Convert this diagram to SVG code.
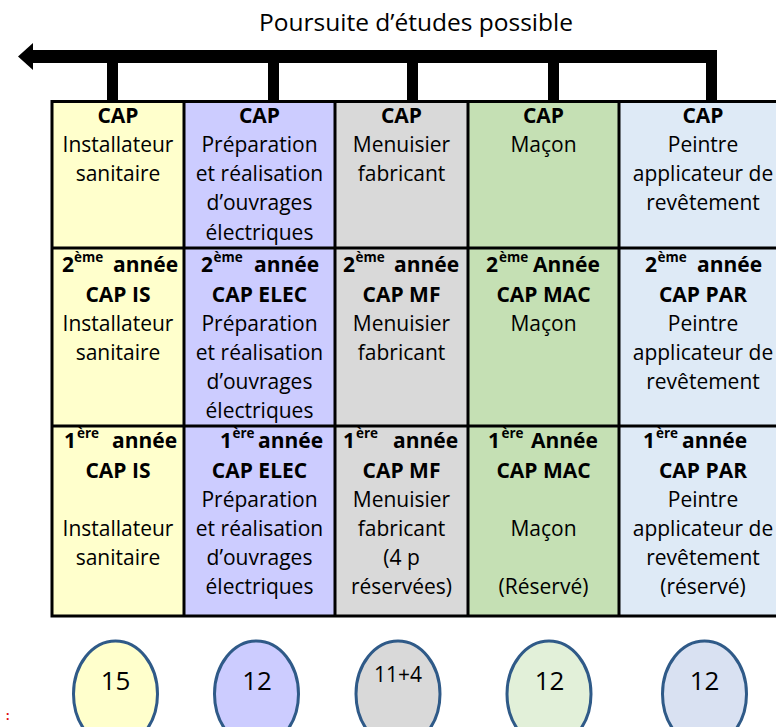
<svg xmlns="http://www.w3.org/2000/svg" width="776" height="727" viewBox="0 0 776 727">
<style>
text{font-family:"Open Sans","Liberation Sans",sans-serif;fill:#000}
.t{font-size:21px;text-anchor:middle}
.b{font-weight:bold}
.h{font-size:21px;font-weight:bold;text-anchor:start}
.sup{font-size:13.5px;font-weight:bold}
.title{font-size:24.5px;text-anchor:middle}
.grid{stroke:#000;stroke-width:3;fill:none}
.ell{stroke:#2F5A88;stroke-width:3}
.num{font-size:26px;text-anchor:middle}
.arrow{fill:#000}
</style>
<rect width="776" height="727" fill="#fff"/>
<text class="title" x="416" y="31">Poursuite d’études possible</text>

<g id="connectors">
<polygon class="arrow" points="18,56.5 33,43 33,70"/>
<rect class="arrow" x="32" y="50" width="685" height="13"/>
<rect class="arrow" x="107" y="62" width="11" height="39"/>
<rect class="arrow" x="268" y="62" width="11" height="39"/>
<rect class="arrow" x="407" y="62" width="11" height="39"/>
<rect class="arrow" x="548" y="62" width="11" height="39"/>
<rect class="arrow" x="706" y="62" width="11" height="39"/>
</g>

<g id="table">
<rect x="52" y="101" width="132" height="515" fill="#FFFFCC"/>
<rect x="184" y="101" width="151" height="515" fill="#CCCCFF"/>
<rect x="335" y="101" width="133" height="515" fill="#D9D9D9"/>
<rect x="468" y="101" width="151" height="515" fill="#C5E0B4"/>
<rect x="619" y="101" width="170" height="515" fill="#DEEAF6"/>
<path class="grid" d="M50.5 101.5H790M50.5 248H790M50.5 426H790M50.5 616H790M52 100V617.5M184 100V617.5M335 100V617.5M468 100V617.5M619 100V617.5"/>
</g>

<g id="col-is">
<text class="t b" x="118" y="123">CAP</text>
<text class="t" x="118" y="152">Installateur</text>
<text class="t" x="118" y="181">sanitaire</text>
<text class="h"><tspan x="62" y="272">2</tspan><tspan class="sup" x="74" y="262">ème</tspan><tspan x="113" y="272">année</tspan></text>
<text class="t b" x="118" y="302">CAP IS</text>
<text class="t" x="118" y="331">Installateur</text>
<text class="t" x="118" y="360">sanitaire</text>
<text class="h"><tspan x="64" y="448">1</tspan><tspan class="sup" x="77" y="438">ère</tspan><tspan x="112" y="448">année</tspan></text>
<text class="t b" x="118" y="478">CAP IS</text>
<text class="t" x="118" y="536">Installateur</text>
<text class="t" x="118" y="565">sanitaire</text>
</g>

<g id="col-elec">
<text class="t b" x="259.5" y="123">CAP</text>
<text class="t" x="259.5" y="152">Préparation</text>
<text class="t" x="259.5" y="181">et réalisation</text>
<text class="t" x="259.5" y="210">d’ouvrages</text>
<text class="t" x="259.5" y="240">électriques</text>
<text class="h"><tspan x="201" y="272">2</tspan><tspan class="sup" x="213.5" y="262">ème</tspan><tspan x="254" y="272">année</tspan></text>
<text class="t b" x="259.5" y="302">CAP ELEC</text>
<text class="t" x="259.5" y="331">Préparation</text>
<text class="t" x="259.5" y="360">et réalisation</text>
<text class="t" x="259.5" y="389">d’ouvrages</text>
<text class="t" x="259.5" y="418">électriques</text>
<text class="h"><tspan x="220" y="448">1</tspan><tspan class="sup" x="232.5" y="438">ère</tspan><tspan x="258" y="448">année</tspan></text>
<text class="t b" x="259.5" y="478">CAP ELEC</text>
<text class="t" x="259.5" y="507">Préparation</text>
<text class="t" x="259.5" y="536">et réalisation</text>
<text class="t" x="259.5" y="565">d’ouvrages</text>
<text class="t" x="259.5" y="594">électriques</text>
</g>

<g id="col-mf">
<text class="t b" x="401.5" y="123">CAP</text>
<text class="t" x="401.5" y="152">Menuisier</text>
<text class="t" x="401.5" y="181">fabricant</text>
<text class="h"><tspan x="343" y="272">2</tspan><tspan class="sup" x="355.5" y="262">ème</tspan><tspan x="394" y="272">année</tspan></text>
<text class="t b" x="401.5" y="302">CAP MF</text>
<text class="t" x="401.5" y="331">Menuisier</text>
<text class="t" x="401.5" y="360">fabricant</text>
<text class="h"><tspan x="343" y="448">1</tspan><tspan class="sup" x="356" y="438">ère</tspan><tspan x="393" y="448">année</tspan></text>
<text class="t b" x="401.5" y="478">CAP MF</text>
<text class="t" x="401.5" y="507">Menuisier</text>
<text class="t" x="401.5" y="536">fabricant</text>
<text class="t" x="401.5" y="565">(4 p</text>
<text class="t" x="401.5" y="594">réservées)</text>
</g>

<g id="col-mac">
<text class="t b" x="543.5" y="123">CAP</text>
<text class="t" x="543.5" y="152">Maçon</text>
<text class="h"><tspan x="486" y="272">2</tspan><tspan class="sup" x="499" y="262">ème</tspan><tspan x="533" y="272">Année</tspan></text>
<text class="t b" x="543.5" y="302">CAP MAC</text>
<text class="t" x="543.5" y="331">Maçon</text>
<text class="h"><tspan x="488" y="448">1</tspan><tspan class="sup" x="501.5" y="438">ère</tspan><tspan x="531" y="448">Année</tspan></text>
<text class="t b" x="543.5" y="478">CAP MAC</text>
<text class="t" x="543.5" y="536">Maçon</text>
<text class="t" x="543.5" y="594">(Réservé)</text>
</g>

<g id="col-par">
<text class="t b" x="703" y="123">CAP</text>
<text class="t" x="703" y="152">Peintre</text>
<text class="t" x="703" y="181">applicateur de</text>
<text class="t" x="703" y="210">revêtement</text>
<text class="h"><tspan x="645" y="272">2</tspan><tspan class="sup" x="657.5" y="262">ème</tspan><tspan x="697" y="272">année</tspan></text>
<text class="t b" x="703" y="302">CAP PAR</text>
<text class="t" x="703" y="331">Peintre</text>
<text class="t" x="703" y="360">applicateur de</text>
<text class="t" x="703" y="389">revêtement</text>
<text class="h"><tspan x="643" y="448">1</tspan><tspan class="sup" x="656" y="438">ère</tspan><tspan x="682" y="448">année</tspan></text>
<text class="t b" x="703" y="478">CAP PAR</text>
<text class="t" x="703" y="507">Peintre</text>
<text class="t" x="703" y="536">applicateur de</text>
<text class="t" x="703" y="565">revêtement</text>
<text class="t" x="703" y="594">(réservé)</text>
</g>

<g id="count-is"><ellipse class="ell" cx="115.5" cy="694" rx="42" ry="53" fill="#FFFFCC"/><text class="num" x="115.5" y="690">15</text></g>
<g id="count-elec"><ellipse class="ell" cx="256.5" cy="694" rx="42" ry="53" fill="#CCCCFF"/><text class="num" x="257" y="690">12</text></g>
<g id="count-mf"><ellipse class="ell" cx="398" cy="694" rx="42" ry="53" fill="#D9D9D9"/><text class="num" x="398" y="682" style="font-size:21px">11+4</text></g>
<g id="count-mac"><ellipse class="ell" cx="549" cy="694" rx="42" ry="53" fill="#E2F0D9"/><text class="num" x="549.5" y="690">12</text></g>
<g id="count-par"><ellipse class="ell" cx="704.5" cy="694" rx="42" ry="53" fill="#D9E1F2"/><text class="num" x="704.5" y="690">12</text></g>

<text x="6" y="720" style="font-size:12px;font-weight:bold;fill:#E00000">:</text>
</svg>
